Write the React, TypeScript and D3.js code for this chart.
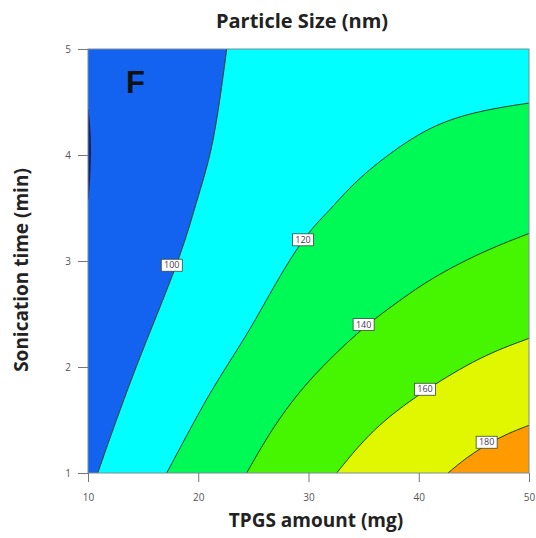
import * as d3 from 'd3';
import React, { Component, RefObject } from 'react';

type Pt = [number, number]; // [TPGS amount (mg), sonication time (min)]

// contour levels of particle size (nm) and the lines
const levels = [100, 120, 140, 160, 180];

const line100: Pt[] = [
  [22.58, 5.0], [21.97, 4.52], [21.16, 4.0], [19.89, 3.58], [18.34, 3.01], [14.26, 2.0], [10.88, 1.0],
];
const line120: Pt[] = [
  [50, 4.49], [45.56, 4.42], [41.02, 4.28], [36.49, 3.95], [33.76, 3.7], [31.95, 3.48], [29.5, 3.23],
  [26.15, 2.63], [24.69, 2.35], [21.79, 1.88], [20.16, 1.59], [17.14, 1.0],
];
const line140: Pt[] = [
  [50, 3.26], [45.56, 3.08], [41.02, 2.83], [38.3, 2.63], [35.15, 2.39], [31.95, 2.08], [29.23, 1.78],
  [26.69, 1.42], [24.39, 1.0],
];
const line160: Pt[] = [
  [50, 2.27], [45.56, 2.1], [40.57, 1.78], [38.3, 1.61], [36.49, 1.46], [34.49, 1.25], [32.56, 1.0],
];
const line180: Pt[] = [
  [50, 1.45], [48.0, 1.37], [46.19, 1.27], [44.38, 1.15], [42.65, 1.0],
];
const contourLines: Pt[][] = [line100, line120, line140, line160, line180];

// small pocket below 100 nm on the left edge
const lowPocket: Pt[] = [
  [10, 4.43], [10.15, 4.3], [10.25, 4.1], [10.2, 3.85], [10.1, 3.7], [10, 3.58],
];

// where the level labels sit on each line
const labelSpots: Pt[] = [
  [17.6, 2.96], [29.5, 3.2], [35.0, 2.4], [40.57, 1.79], [46.16, 1.29],
];

const xTicks = [10, 20, 30, 40, 50];
const yTicks = [1, 2, 3, 4, 5];

const bandColors = ['#1363f0', '#00ffff', '#00fa55', '#46f500', '#e1f700', '#ff9a00'];
const pocketColor = '#0b2a96';

const width = 536;
const height = 538;
const margin = { top: 49, right: 7, bottom: 65, left: 88 };
const font = "'Open Sans', 'DejaVu Sans', sans-serif";

class ContourChart extends Component {
  private ref: RefObject<SVGSVGElement>;

  constructor(props: {}) {
    super(props);
    this.ref = React.createRef();
  }

  componentDidMount(): void {
    this.renderChart();
  }

  renderChart = (): void => {
    const svg = d3.select(this.ref.current);
    svg.selectAll('*').remove();

    const x = d3.scaleLinear().domain([10, 50]).range([margin.left, width - margin.right]);
    const y = d3.scaleLinear().domain([1, 5]).range([height - margin.bottom, margin.top]);
    const line = d3
      .line<Pt>()
      .x((d) => x(d[0]))
      .y((d) => y(d[1]))
      .curve(d3.curveBasis);

    svg
      .append('defs')
      .append('clipPath')
      .attr('id', 'plot-clip')
      .append('rect')
      .attr('x', x(10))
      .attr('y', y(5))
      .attr('width', x(50) - x(10))
      .attr('height', y(1) - y(5));

    const plot = svg.append('g').attr('clip-path', 'url(#plot-clip)');

    plot
      .append('rect')
      .attr('x', x(10))
      .attr('y', y(5))
      .attr('width', x(50) - x(10))
      .attr('height', y(1) - y(5))
      .attr('fill', bandColors[0]);

    plot
      .append('path')
      .attr('d', line(lowPocket) + 'Z')
      .attr('fill', pocketColor)
      .attr('stroke', '#1a1a3a')
      .attr('stroke-width', 0.8);

    // each band is everything to the lower right of its contour
    contourLines.forEach((pts, i) => {
      let d = line(pts) as string;
      d += `L${x(50)},${y(1)}`;
      if (pts[0][1] === 5) d += `L${x(50)},${y(5)}`;
      d += 'Z';
      plot.append('path').attr('d', d).attr('fill', bandColors[i + 1]);
    });

    contourLines.forEach((pts) => {
      plot
        .append('path')
        .attr('d', line(pts))
        .attr('fill', 'none')
        .attr('stroke', '#1f3d22')
        .attr('stroke-width', 1);
    });

    svg
      .append('rect')
      .attr('x', x(10))
      .attr('y', y(5))
      .attr('width', x(50) - x(10))
      .attr('height', y(1) - y(5))
      .attr('fill', 'none')
      .attr('stroke', '#7d8c99')
      .attr('stroke-width', 1);

    const tags = svg
      .selectAll('g.level-tag')
      .data(levels)
      .enter()
      .append('g')
      .classed('level-tag', true)
      .attr('transform', (d, i) => `translate(${x(labelSpots[i][0])},${y(labelSpots[i][1])})`);
    tags
      .append('rect')
      .attr('x', -10.5)
      .attr('y', -6)
      .attr('width', 21)
      .attr('height', 12)
      .attr('fill', '#ffffff')
      .attr('stroke', '#3a4a3a')
      .attr('stroke-width', 0.8);
    tags
      .append('text')
      .attr('text-anchor', 'middle')
      .attr('dy', '0.35em')
      .attr('font-family', font)
      .attr('font-size', 9)
      .attr('fill', '#4a3a55')
      .text((d) => d);

    const xAxis = d3
      .axisBottom(x)
      .tickValues(xTicks)
      .tickFormat(d3.format('d'))
      .tickSizeInner(9)
      .tickSizeOuter(0)
      .tickPadding(12);
    const gx = svg.append('g').attr('transform', `translate(0,${y(1)})`).call(xAxis);
    const yAxis = d3
      .axisLeft(y)
      .tickValues(yTicks)
      .tickFormat(d3.format('d'))
      .tickSizeInner(10)
      .tickSizeOuter(0)
      .tickPadding(7);
    const gy = svg.append('g').attr('transform', `translate(${x(10)},0)`).call(yAxis);
    [gx, gy].forEach((g) => {
      g.select('.domain').remove();
      g.selectAll('.tick line').attr('stroke', '#777');
      g.selectAll('.tick text').attr('fill', '#555').attr('font-size', 10).attr('font-family', font);
    });

    svg
      .append('text')
      .attr('x', 302)
      .attr('y', 28)
      .attr('text-anchor', 'middle')
      .attr('font-family', font)
      .attr('font-weight', 'bold')
      .attr('font-size', 20)
      .attr('fill', '#222')
      .text('Particle Size (nm)');

    svg
      .append('text')
      .attr('x', 316)
      .attr('y', 527)
      .attr('text-anchor', 'middle')
      .attr('font-family', font)
      .attr('font-weight', 'bold')
      .attr('font-size', 19)
      .attr('fill', '#222')
      .text('TPGS amount (mg)');

    svg
      .append('text')
      .attr('transform', 'translate(28,270) rotate(-90)')
      .attr('text-anchor', 'middle')
      .attr('font-family', font)
      .attr('font-weight', 'bold')
      .attr('font-size', 19)
      .attr('fill', '#222')
      .text('Sonication time (min)');

    svg
      .append('text')
      .attr('x', 126)
      .attr('y', 93)
      .attr('font-family', "'Liberation Sans', Arial, sans-serif")
      .attr('font-weight', 'bold')
      .attr('font-size', 31)
      .attr('fill', '#111')
      .text('F');
  };

  render(): JSX.Element {
    return (
      <svg
        ref={this.ref}
        width={width}
        height={height}
        viewBox={`0 0 ${width} ${height}`}
        style={{ position: 'absolute', left: 0, top: 0, background: '#fff' }}
      ></svg>
    );
  }
}

export default function App() {
  return <ContourChart />;
}
